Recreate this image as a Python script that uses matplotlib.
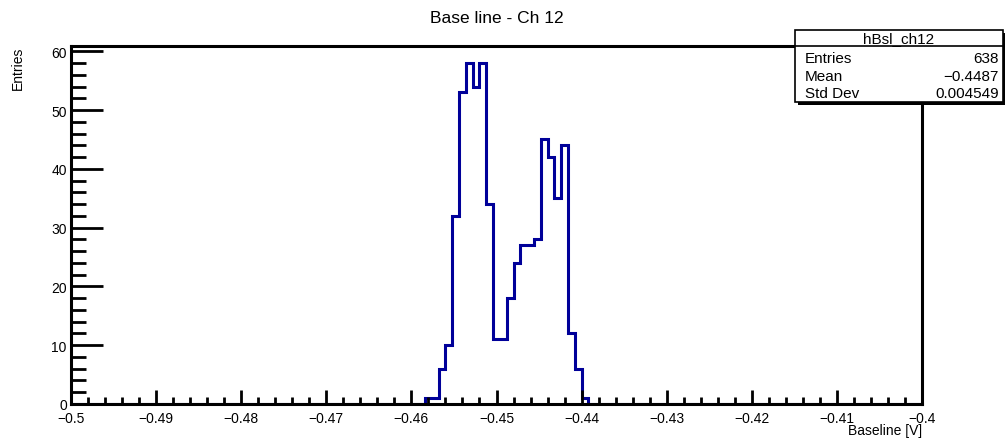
import numpy as np
import matplotlib
matplotlib.use("Agg")
import matplotlib.pyplot as plt
from matplotlib.patches import Rectangle
from matplotlib.ticker import MultipleLocator, FuncFormatter

plt.rcParams['font.family'] = ['Liberation Sans', 'DejaVu Sans']

# histogram definition (ROOT style TH1 with 125 bins)
n_bins = 125
x_min, x_max = -0.5, -0.4
first_bin = 52
counts_nonzero = [1, 1, 6, 10, 32, 53, 58, 54, 58, 34, 11, 11,
                  18, 24, 27, 27, 28, 45, 42, 35, 44, 12, 6, 1]

hist_name = "hBsl_ch12"
stat_labels = ["Entries", "Mean", "Std Dev"]
stat_values = ["638", "\u22120.4487", "0.004549"]

edges = np.linspace(x_min, x_max, n_bins + 1)
counts = np.zeros(n_bins)
counts[first_bin:first_bin + len(counts_nonzero)] = counts_nonzero

fig = plt.figure(figsize=(10.05, 4.39), dpi=100)
ax = fig.add_axes([71 / 1005, 1 - 405 / 439, (922 - 71) / 1005, (405 - 47) / 439])

ax.stairs(counts, edges, color="#000099", linewidth=2.2, baseline=None)

ax.set_xlim(x_min, x_max)
ax.set_ylim(0, 1.05 * max(counts))

ax.xaxis.set_major_locator(MultipleLocator(0.01))
ax.xaxis.set_minor_locator(MultipleLocator(0.002))
ax.yaxis.set_major_locator(MultipleLocator(10))
ax.yaxis.set_minor_locator(MultipleLocator(2))
ax.xaxis.set_major_formatter(FuncFormatter(lambda v, p: ("%g" % round(v, 4)).replace("-", "\u2212")))

ax.tick_params(axis="x", which="major", direction="in", length=10, width=2, labelsize=10, pad=5)
ax.tick_params(axis="x", which="minor", direction="in", length=5, width=2)
ax.tick_params(axis="y", which="major", direction="in", length=23, width=2, labelsize=10, pad=3)
ax.tick_params(axis="y", which="minor", direction="in", length=11, width=2)

for s in ax.spines.values():
    s.set_linewidth(2.2)

ax.set_title("Base line - Ch 12", fontsize=12.5, pad=17)
ax.set_ylabel("Entries", fontsize=10, loc="top", labelpad=19)
# x title sits right-aligned under the axis end, like ROOT
fig.text(922 / 1005, 1 - 431 / 439, "Baseline [V]", ha="right", va="center", fontsize=10)

# stats box
bx0, by0 = 795 / 1005, 1 - 103 / 439
bw, bh = (1003 - 795) / 1005, (103 - 31) / 439
shadow = Rectangle((bx0 + 0.003, by0 - 0.007), bw, bh, transform=fig.transFigure,
                   facecolor="black", edgecolor="none", zorder=5)
box = Rectangle((bx0, by0), bw, bh, transform=fig.transFigure,
                facecolor="white", edgecolor="black", linewidth=1.2, zorder=6)
fig.patches.extend([shadow, box])
hy = 1 - 47 / 439
fig.add_artist(plt.Line2D([bx0, bx0 + bw], [hy, hy], transform=fig.transFigure,
                          color="black", linewidth=1.2, zorder=7))
fig.text(bx0 + bw / 2, 1 - 39 / 439, hist_name, ha="center", va="center", fontsize=11, zorder=8)
row_y = [59, 77, 94]
for lab, val, ry in zip(stat_labels, stat_values, row_y):
    fig.text(bx0 + 0.010, 1 - ry / 439, lab, ha="left", va="center", fontsize=11, zorder=8)
    fig.text(bx0 + bw - 0.004, 1 - ry / 439, val, ha="right", va="center", fontsize=11, zorder=8)

fig.savefig("out.png", dpi=100)
